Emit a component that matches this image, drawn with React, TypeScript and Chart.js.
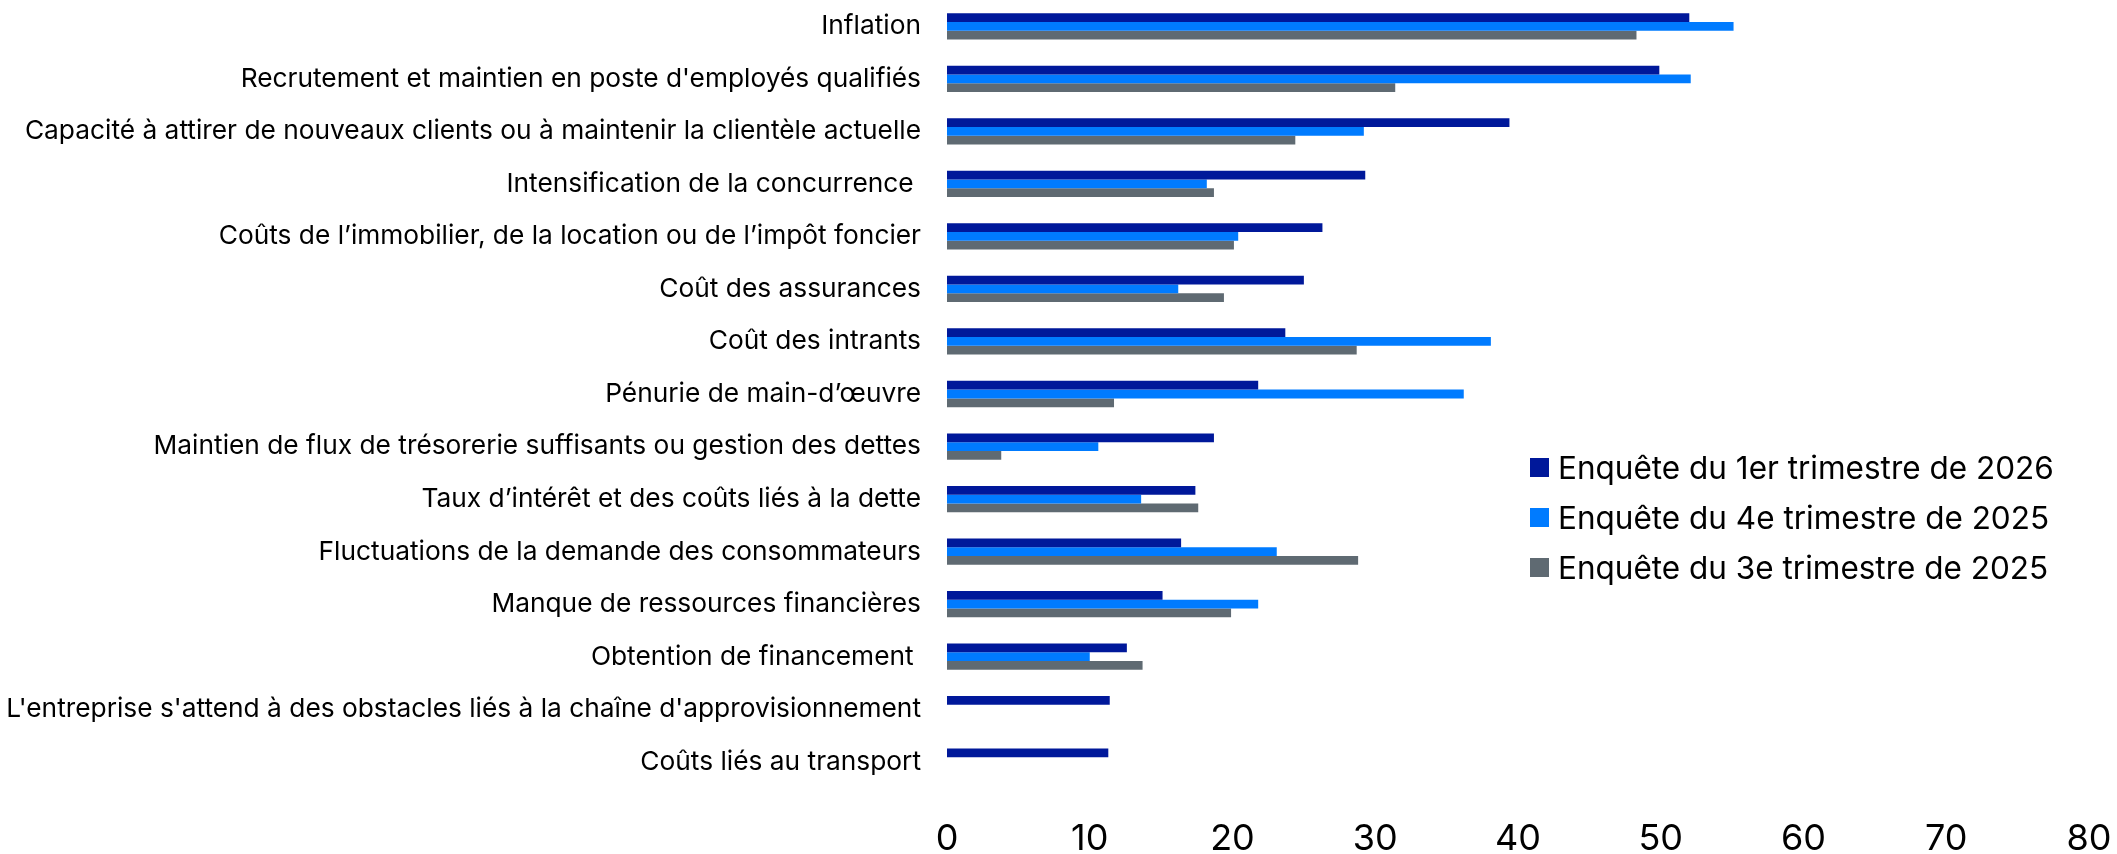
import React, { useEffect, useRef } from "react";
import { Chart, registerables } from "chart.js";

Chart.register(...registerables);

const categories: string[] = [
  "Inflation",
  "Recrutement et maintien en poste d'employés qualifiés",
  "Capacité à attirer de nouveaux clients ou à maintenir la clientèle actuelle",
  "Intensification de la concurrence ",
  "Coûts de l’immobilier, de la location ou de l’impôt foncier",
  "Coût des assurances",
  "Coût des intrants",
  "Pénurie de main-d’œuvre",
  "Maintien de flux de trésorerie suffisants ou gestion des dettes",
  "Taux d’intérêt et des coûts liés à la dette",
  "Fluctuations de la demande des consommateurs",
  "Manque de ressources financières",
  "Obtention de financement ",
  "L'entreprise s'attend à des obstacles liés à la chaîne d'approvisionnement",
  "Coûts liés au transport",
];

const seriesLabels: string[] = [
  "Enquête du 1er trimestre de 2026",
  "Enquête du 4e trimestre de 2025",
  "Enquête du 3e trimestre de 2025",
];

const q1_2026: (number | null)[] = [52.0, 49.9, 39.4, 29.3, 26.3, 25.0, 23.7, 21.8, 18.7, 17.4, 16.4, 15.1, 12.6, 11.4, 11.3];
const q4_2025: (number | null)[] = [55.1, 52.1, 29.2, 18.2, 20.4, 16.2, 38.1, 36.2, 10.6, 13.6, 23.1, 21.8, 10.0, null, null];
const q3_2025: (number | null)[] = [48.3, 31.4, 24.4, 18.7, 20.1, 19.4, 28.7, 11.7, 3.8, 17.6, 28.8, 19.9, 13.7, null, null];

const xTicks: number[] = [0, 10, 20, 30, 40, 50, 60, 70, 80];

const colors = ["#00189A", "#007BFF", "#5F6A72"];
const FONT = "Inter";

export default function App() {
  const ref = useRef<HTMLCanvasElement | null>(null);

  useEffect(() => {
    document.body.style.margin = "0";
    if (!ref.current) return;
    const datasets = [q1_2026, q4_2025, q3_2025].map((d, i) => ({
      label: seriesLabels[i],
      data: d,
      backgroundColor: colors[i],
      borderWidth: 0,
      categoryPercentage: 0.5,
      barPercentage: 1.0,
    }));
    const chart = new Chart(ref.current, {
      type: "bar",
      data: { labels: categories, datasets },
      options: {
        indexAxis: "y",
        animation: false,
        responsive: true,
        maintainAspectRatio: false,
        layout: { padding: { left: 0, right: 28, top: 0, bottom: 0 } },
        plugins: { legend: { display: false }, tooltip: { enabled: false } },
        scales: {
          x: {
            min: 0,
            max: 80,
            afterFit: (s: any) => { s.height = 66; s.paddingLeft = 0; s.paddingRight = 0; },
            afterBuildTicks: (s: any) => { s.ticks = xTicks.map((v) => ({ value: v })); },
            grid: { display: false, drawTicks: false },
            border: { display: false },
            ticks: { color: "#000", padding: 30, font: { family: FONT, size: 36 } },
          },
          y: {
            afterFit: (s: any) => { s.width = 947; s.paddingTop = 0; s.paddingBottom = 0; },
            grid: { display: false, drawTicks: false },
            border: { display: false },
            ticks: { color: "#000", padding: 26, autoSkip: false, font: { family: FONT, size: 26.3 } },
          },
        },
      },
    });
    return () => chart.destroy();
  }, []);

  return (
    <div style={{ position: "relative", width: 2117, height: 854, background: "#fff", fontFamily: FONT }}>
      <canvas ref={ref} />
      <div style={{ position: "absolute", left: 1530, top: 442 }}>
        {seriesLabels.map((s, i) => (
          <div key={s} style={{ display: "flex", alignItems: "center", height: 50, fontSize: 31.5, color: "#000", whiteSpace: "nowrap" }}>
            <span style={{ width: 19, height: 19, background: colors[i], marginRight: 9, display: "inline-block" }} />
            <span>{s}</span>
          </div>
        ))}
      </div>
    </div>
  );
}
